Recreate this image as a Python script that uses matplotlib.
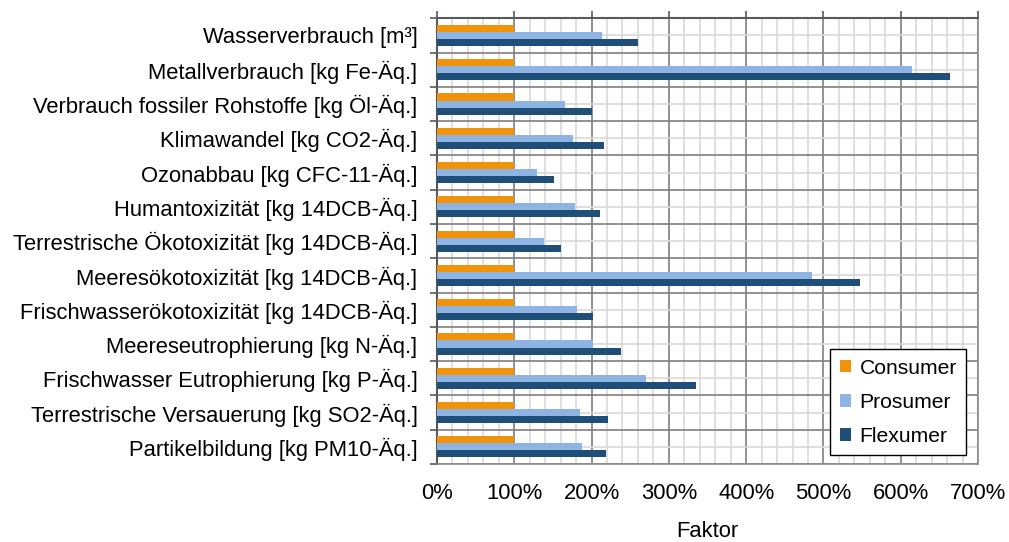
import numpy as np
import matplotlib.pyplot as plt
from matplotlib.patches import Patch
from matplotlib.ticker import MultipleLocator, FuncFormatter

plt.rcParams['font.family'] = ['Liberation Sans', 'DejaVu Sans']

categories = [
    "Wasserverbrauch [m³]",
    "Metallverbrauch [kg Fe-Äq.]",
    "Verbrauch fossiler Rohstoffe [kg Öl-Äq.]",
    "Klimawandel [kg CO2-Äq.]",
    "Ozonabbau [kg CFC-11-Äq.]",
    "Humantoxizität [kg 14DCB-Äq.]",
    "Terrestrische Ökotoxizität [kg 14DCB-Äq.]",
    "Meeresökotoxizität [kg 14DCB-Äq.]",
    "Frischwasserökotoxizität [kg 14DCB-Äq.]",
    "Meereseutrophierung [kg N-Äq.]",
    "Frischwasser Eutrophierung [kg P-Äq.]",
    "Terrestrische Versauerung [kg SO2-Äq.]",
    "Partikelbildung [kg PM10-Äq.]",
]
consumer = [100, 100, 100, 100, 100, 100, 100, 100, 100, 100, 100, 100, 100]
prosumer = [214, 614, 165, 176, 129, 178, 138, 485, 181, 202, 271, 185, 188]
flexumer = [260, 664, 200, 216, 152, 211, 161, 547, 202, 238, 335, 221, 219]
series_names = ["Consumer", "Prosumer", "Flexumer"]
colors = ["#F0920A", "#8DB4E2", "#1F4E79"]

fs = 15.8

fig = plt.figure(figsize=(10.09, 5.42), dpi=100)
ax = fig.add_axes([0.4331, 0.1439, 0.5362, 0.8223])

n = len(categories)
y = np.arange(n)
h = 0.205
for i, (vals, c) in enumerate(zip([consumer, prosumer, flexumer], colors)):
    ax.barh(y + (i - 1) * h, vals, height=h, color=c, zorder=3)

ax.set_ylim(n - 0.5, -0.5)
ax.set_xlim(0, 700)

# y: Kategoriegrenzen als Major (dunkles Gitter), Mitten als Minor (Beschriftung)
ax.set_yticks(np.arange(n + 1) - 0.5)
ax.set_yticklabels([])
ax.set_yticks(y, minor=True)
ax.set_yticklabels(categories, minor=True, fontsize=fs)
ax.tick_params(axis='y', which='major', length=5, width=1.2, color='#595959')
ax.tick_params(axis='y', which='minor', length=0, pad=14)

ax.xaxis.set_major_locator(MultipleLocator(100))
ax.xaxis.set_minor_locator(MultipleLocator(20))
ax.xaxis.set_major_formatter(FuncFormatter(lambda v, p: f"{int(v)}%"))
ax.tick_params(axis='x', which='major', top=True, bottom=False, labeltop=False,
               labelbottom=True, length=5, width=1.2, color='#595959',
               labelsize=fs, pad=9)
ax.tick_params(axis='x', which='minor', top=False, bottom=False)

ax.grid(which='major', color='#7F7F7F', linewidth=1.2, zorder=0)
ax.grid(which='minor', color='#D9D9D9', linewidth=1.2, zorder=0)
ax.set_axisbelow(True)

for side in ['left', 'top']:
    ax.spines[side].set_color('#595959')
    ax.spines[side].set_linewidth(1.5)
for side in ['right', 'bottom']:
    ax.spines[side].set_color('#8C8C8C')
    ax.spines[side].set_linewidth(1.2)

ax.set_xlabel("Faktor", fontsize=fs, labelpad=12)

handles = [Patch(facecolor=c, edgecolor='none') for c in colors]
leg = ax.legend(handles, series_names, loc='upper left',
                bbox_to_anchor=(830 / 1009, 1 - 349 / 542),
                bbox_transform=fig.transFigure, fontsize=15.2,
                fancybox=False, framealpha=1, edgecolor='#000000',
                handlelength=0.55, handleheight=0.55, handletextpad=0.4,
                labelspacing=0.72, borderpad=0.45, borderaxespad=0)
leg.get_frame().set_linewidth(1.0)

fig.savefig("out.png", dpi=100)
